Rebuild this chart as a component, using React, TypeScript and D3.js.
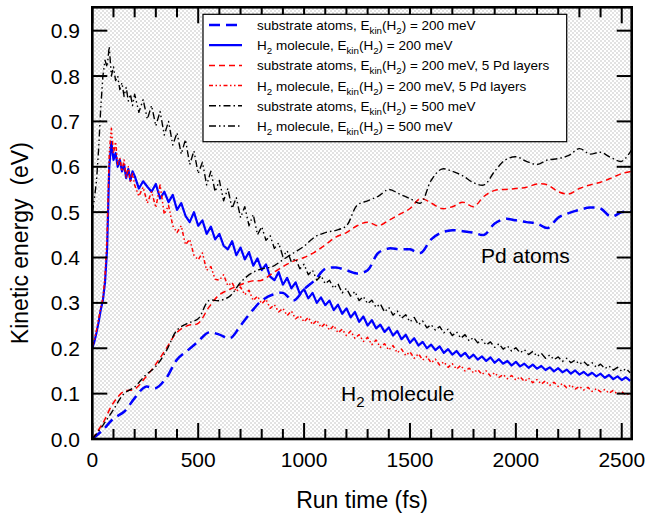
import React from 'react';
import * as d3 from 'd3';

// time grids (fs)
const h2Times = [...d3.range(0, 200, 10), ...d3.range(200, 2541, 20)];
const substrateTimes = d3.range(0, 2551, 50);

// H2 molecule kinetic energy (eV)
const h2Blue200 = [
  0.200, 0.215, 0.235, 0.258, 0.285, 0.305, 0.345, 0.420, 0.600, 0.655,
  0.615, 0.630, 0.600, 0.615, 0.590, 0.605, 0.575, 0.595, 0.570, 0.590,
  0.580, 0.552, 0.568, 0.556, 0.545, 0.562, 0.530, 0.545, 0.522, 0.538,
  0.505, 0.520, 0.492, 0.478, 0.500, 0.470, 0.482, 0.452, 0.468, 0.440,
  0.452, 0.426, 0.418, 0.436, 0.405, 0.422, 0.396, 0.412, 0.382, 0.398,
  0.372, 0.385, 0.358, 0.350, 0.368, 0.340, 0.355, 0.332, 0.345, 0.320,
  0.330, 0.310, 0.322, 0.300, 0.312, 0.295, 0.305, 0.284, 0.296, 0.276,
  0.288, 0.268, 0.280, 0.258, 0.270, 0.250, 0.262, 0.244, 0.252, 0.236,
  0.246, 0.228, 0.238, 0.220, 0.230, 0.212, 0.222, 0.206, 0.214, 0.200,
  0.208, 0.196, 0.204, 0.190, 0.198, 0.186, 0.194, 0.182, 0.190, 0.178,
  0.186, 0.175, 0.182, 0.172, 0.180, 0.168, 0.176, 0.166, 0.172, 0.162,
  0.170, 0.160, 0.166, 0.157, 0.164, 0.155, 0.161, 0.152, 0.158, 0.149,
  0.156, 0.147, 0.153, 0.144, 0.151, 0.142, 0.148, 0.140, 0.146, 0.138,
  0.144, 0.135, 0.141, 0.132, 0.138, 0.130, 0.136, 0.128,
];
const h2Red200Pd5 = [
  0.205, 0.220, 0.240, 0.265, 0.290, 0.310, 0.360, 0.450, 0.630, 0.685,
  0.630, 0.655, 0.605, 0.620, 0.590, 0.615, 0.575, 0.600, 0.565, 0.585,
  0.560, 0.535, 0.555, 0.520, 0.545, 0.510, 0.560, 0.495, 0.515, 0.470,
  0.455, 0.470, 0.428, 0.440, 0.405, 0.395, 0.410, 0.372, 0.380, 0.352,
  0.350, 0.362, 0.338, 0.345, 0.325, 0.335, 0.318, 0.328, 0.305, 0.315,
  0.298, 0.308, 0.288, 0.296, 0.280, 0.288, 0.272, 0.282, 0.265, 0.272,
  0.258, 0.268, 0.252, 0.262, 0.246, 0.255, 0.240, 0.250, 0.234, 0.242,
  0.228, 0.238, 0.222, 0.230, 0.215, 0.224, 0.208, 0.218, 0.202, 0.210,
  0.196, 0.206, 0.190, 0.198, 0.184, 0.192, 0.178, 0.188, 0.174, 0.182,
  0.168, 0.176, 0.163, 0.170, 0.158, 0.166, 0.154, 0.162, 0.150, 0.156,
  0.146, 0.153, 0.142, 0.150, 0.139, 0.146, 0.136, 0.142, 0.133, 0.140,
  0.130, 0.137, 0.127, 0.134, 0.124, 0.131, 0.121, 0.128, 0.118, 0.125,
  0.116, 0.122, 0.113, 0.119, 0.110, 0.116, 0.108, 0.114, 0.105, 0.111,
  0.104, 0.109, 0.101, 0.107, 0.099, 0.104, 0.097, 0.101,
];
const h2Black500 = [
  0.500, 0.530, 0.570, 0.640, 0.730, 0.800, 0.835, 0.820, 0.865, 0.800,
  0.820, 0.790, 0.800, 0.770, 0.785, 0.755, 0.775, 0.745, 0.760, 0.735,
  0.760, 0.720, 0.748, 0.705, 0.735, 0.690, 0.722, 0.670, 0.700, 0.648,
  0.675, 0.628, 0.660, 0.605, 0.635, 0.585, 0.610, 0.560, 0.590, 0.545,
  0.570, 0.525, 0.552, 0.508, 0.532, 0.488, 0.512, 0.470, 0.495, 0.450,
  0.468, 0.438, 0.448, 0.420, 0.432, 0.402, 0.415, 0.390, 0.398, 0.375,
  0.385, 0.362, 0.372, 0.350, 0.360, 0.342, 0.350, 0.332, 0.342, 0.322,
  0.332, 0.315, 0.325, 0.305, 0.314, 0.298, 0.306, 0.290, 0.298, 0.280,
  0.290, 0.273, 0.282, 0.266, 0.274, 0.258, 0.268, 0.252, 0.260, 0.245,
  0.252, 0.240, 0.248, 0.234, 0.242, 0.228, 0.236, 0.222, 0.230, 0.216,
  0.224, 0.212, 0.219, 0.207, 0.214, 0.202, 0.210, 0.198, 0.205, 0.194,
  0.201, 0.190, 0.197, 0.186, 0.193, 0.182, 0.189, 0.178, 0.185, 0.175,
  0.181, 0.171, 0.178, 0.168, 0.174, 0.165, 0.171, 0.162, 0.168, 0.158,
  0.165, 0.155, 0.161, 0.152, 0.158, 0.149, 0.155, 0.146,
];

// substrate (Pd) atoms kinetic energy (eV)
const subBlue200 = [
  0.000, 0.020, 0.045, 0.060, 0.090, 0.115, 0.112, 0.135, 0.175, 0.195,
  0.215, 0.235, 0.230, 0.222, 0.250, 0.280, 0.305, 0.318, 0.322, 0.305,
  0.330, 0.350, 0.375, 0.378, 0.372, 0.365, 0.372, 0.410, 0.420, 0.418,
  0.418, 0.410, 0.440, 0.455, 0.460, 0.458, 0.455, 0.450, 0.475, 0.485,
  0.482, 0.478, 0.475, 0.465, 0.488, 0.498, 0.505, 0.510, 0.508, 0.490,
  0.500, 0.502,
];
const subRed200Pd5 = [
  0.000, 0.035, 0.080, 0.105, 0.110, 0.135, 0.165, 0.200, 0.235, 0.250,
  0.255, 0.290, 0.318, 0.330, 0.340, 0.348, 0.350, 0.365, 0.380, 0.392,
  0.400, 0.412, 0.428, 0.445, 0.455, 0.470, 0.478, 0.470, 0.482, 0.495,
  0.508, 0.530, 0.520, 0.508, 0.512, 0.522, 0.512, 0.535, 0.548, 0.550,
  0.552, 0.555, 0.562, 0.560, 0.545, 0.540, 0.552, 0.560, 0.566, 0.575,
  0.585, 0.590,
];
const subBlack500 = [
  0.000, 0.030, 0.065, 0.100, 0.115, 0.140, 0.160, 0.195, 0.240, 0.255,
  0.265, 0.305, 0.305, 0.315, 0.345, 0.365, 0.375, 0.380, 0.395, 0.410,
  0.425, 0.445, 0.455, 0.460, 0.470, 0.515, 0.525, 0.535, 0.550, 0.540,
  0.530, 0.520, 0.570, 0.595, 0.590, 0.580, 0.565, 0.560, 0.590, 0.615,
  0.622, 0.612, 0.605, 0.615, 0.618, 0.625, 0.640, 0.628, 0.632, 0.620,
  0.612, 0.640,
];

const xTicks = [0, 500, 1000, 1500, 2000, 2500];
const yTicks = [0, 0.1, 0.2, 0.3, 0.4, 0.5, 0.6, 0.7, 0.8, 0.9];

const series = [
  { label: 'substrate atoms, E_{kin}(H_{2}) = 200 meV', t: substrateTimes, v: subBlue200, color: '#0000ff', width: 2.5, dash: '11,6', smooth: true },
  { label: 'H_{2} molecule, E_{kin}(H_{2}) = 200 meV', t: h2Times, v: h2Blue200, color: '#0000ff', width: 2.2, dash: null, smooth: false },
  { label: 'substrate atoms, E_{kin}(H_{2}) = 200 meV, 5 Pd layers', t: substrateTimes, v: subRed200Pd5, color: '#ff0000', width: 1.5, dash: '6,4', smooth: true },
  { label: 'H_{2} molecule, E_{kin}(H_{2}) = 200 meV, 5 Pd layers', t: h2Times, v: h2Red200Pd5, color: '#ff0000', width: 1.5, dash: '4,2.5,1.5,2.5,1.5,2.5', smooth: false },
  { label: 'substrate atoms, E_{kin}(H_{2}) = 500 meV', t: substrateTimes, v: subBlack500, color: '#000000', width: 1.4, dash: '7,3,1.5,3', smooth: true },
  { label: 'H_{2} molecule, E_{kin}(H_{2}) = 500 meV', t: h2Times, v: h2Black500, color: '#000000', width: 1.4, dash: '7,3,1.5,3,1.5,3', smooth: false },
];

const FONT = '"Liberation Sans", Arial, Helvetica, sans-serif';

function RichText({ text, x, y, size, anchor }: { text: string; x: number; y: number; size: number; anchor?: string }) {
  const parts = text.split(/(_\{[^}]*\})/).filter((p) => p.length > 0);
  const shift = size * 0.3;
  let down = false;
  return (
    <text x={x} y={y} fontSize={size} fontFamily={FONT} textAnchor={anchor || 'start'} fill="#000">
      {parts.map((p, i) => {
        if (p.startsWith('_{')) {
          const dy = down ? 0 : shift;
          down = true;
          return (
            <tspan key={i} dy={dy} fontSize={size * 0.72}>
              {p.slice(2, -1)}
            </tspan>
          );
        }
        const dy = down ? -shift : 0;
        down = false;
        return (
          <tspan key={i} dy={dy}>
            {p}
          </tspan>
        );
      })}
    </text>
  );
}

export default function App() {
  const W = 647;
  const H = 515;
  const left = 92.3;
  const right = 631.7;
  const top = 7.3;
  const bottom = 439;

  const x = d3.scaleLinear().domain([0, 2547]).range([left, right]);
  const y = d3.scaleLinear().domain([0, 0.9515]).range([bottom, top]);

  const minorX = d3.range(0, 2547, 100).filter((d) => d % 500 !== 0);

  const legend = { x0: 203, y0: 14.3, x1: 566.7, y1: 141.7 };
  const rowH = 20.2;

  return (
    <svg width={W} height={H} style={{ position: 'absolute', left: 0, top: 0, background: '#fff' }}>
      <defs>
        <pattern id="checker" width="4" height="4" patternUnits="userSpaceOnUse">
          <rect width="4" height="4" fill="#ffffff" />
          <rect width="2" height="2" fill="#e2e2e2" />
          <rect x="2" y="2" width="2" height="2" fill="#e2e2e2" />
        </pattern>
        <clipPath id="plotClip">
          <rect x={left} y={top} width={right - left} height={bottom - top} />
        </clipPath>
      </defs>

      <rect x={left} y={top} width={right - left} height={bottom - top} fill="url(#checker)" />

      <g clipPath="url(#plotClip)">
        {series.map((s, i) => {
          const line = d3
            .line<number>()
            .x((_, j) => x(s.t[j]))
            .y((d) => y(d))
            .curve(s.smooth ? d3.curveCatmullRom : d3.curveLinear);
          return (
            <path
              key={i}
              d={line(s.v) || ''}
              fill="none"
              stroke={s.color}
              strokeWidth={s.width}
              strokeDasharray={s.dash || undefined}
              strokeLinejoin="round"
            />
          );
        })}
      </g>

      {/* ticks */}
      <g stroke="#000" strokeWidth={2}>
        {xTicks.map((t) => (
          <g key={'xt' + t}>
            <line x1={x(t)} x2={x(t)} y1={bottom} y2={bottom - 16} />
            <line x1={x(t)} x2={x(t)} y1={top} y2={top + 16} />
          </g>
        ))}
        {minorX.map((t) => (
          <g key={'xm' + t}>
            <line x1={x(t)} x2={x(t)} y1={bottom} y2={bottom - 10} />
            <line x1={x(t)} x2={x(t)} y1={top} y2={top + 10} />
          </g>
        ))}
        {yTicks.map((t) => (
          <g key={'yt' + t}>
            <line x1={left} x2={left + 15} y1={y(t)} y2={y(t)} />
            <line x1={right} x2={right - 15} y1={y(t)} y2={y(t)} />
          </g>
        ))}
      </g>

      <rect x={left} y={top} width={right - left} height={bottom - top} fill="none" stroke="#000" strokeWidth={2.6} />

      {/* tick labels */}
      <g fontFamily={FONT} fontSize={21} fill="#000">
        {xTicks.map((t) => (
          <text key={'xl' + t} x={x(t)} y={467} textAnchor="middle">
            {t}
          </text>
        ))}
        {yTicks.map((t) => (
          <text key={'yl' + t} x={80} y={y(t)} dy="0.36em" textAnchor="end">
            {d3.format('.1f')(t)}
          </text>
        ))}
      </g>

      <text x={(left + right) / 2} y={508} textAnchor="middle" fontFamily={FONT} fontSize={23}>
        Run time (fs)
      </text>
      <text
        transform={`translate(28, ${(top + bottom) / 2 + 20}) rotate(-90)`}
        textAnchor="middle"
        fontFamily={FONT}
        fontSize={23}
        xmlSpace="preserve"
      >
        Kinetic energy  (eV)
      </text>

      {/* annotations */}
      <RichText text="Pd atoms" x={481} y={263} size={21} />
      <RichText text="H_{2} molecule" x={341} y={401} size={21} />

      {/* legend */}
      <rect x={legend.x0} y={legend.y0} width={legend.x1 - legend.x0} height={legend.y1 - legend.y0} fill="#fff" stroke="#000" strokeWidth={1.2} />
      {series.map((s, i) => {
        const cy = 25 + i * rowH;
        return (
          <g key={'lg' + i}>
            <line
              x1={209}
              x2={242}
              y1={cy}
              y2={cy}
              stroke={s.color}
              strokeWidth={s.width}
              strokeDasharray={s.dash || undefined}
            />
            <RichText text={s.label} x={257} y={cy + 5} size={13.5} />
          </g>
        );
      })}
    </svg>
  );
}
